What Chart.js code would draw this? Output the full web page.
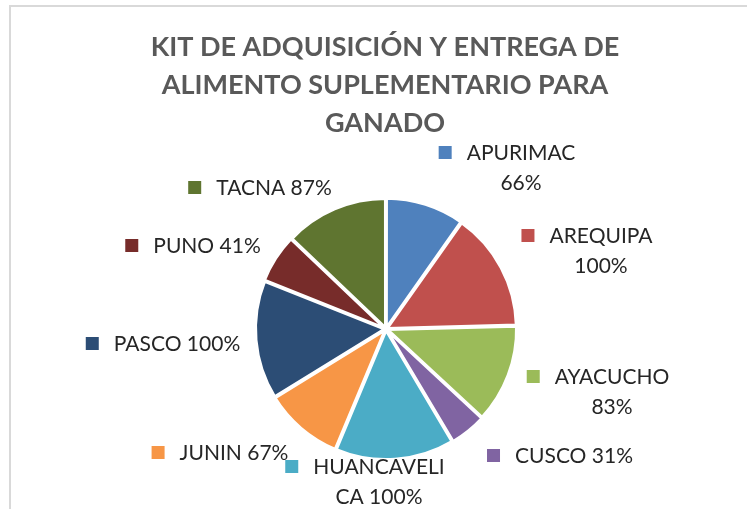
<!DOCTYPE html>
<html>
<head>
<meta charset="utf-8">
<script src="https://cdn.jsdelivr.net/npm/chart.js@4.4.0/dist/chart.umd.min.js"></script>
<style>
    html, body { margin: 0; padding: 0; background: #ffffff; }
    #chartWrap { width: 747px; height: 509px; position: relative; }
</style>
</head>
<body>
<div id="chartWrap"><canvas id="kitChart" width="747" height="509"></canvas></div>
<script>
const regions = ["APURIMAC", "AREQUIPA", "AYACUCHO", "CUSCO", "HUANCAVELICA", "JUNIN", "PASCO", "PUNO", "TACNA"];
const percents = [66, 100, 83, 31, 100, 67, 100, 41, 87];
const sliceColors = ["#4F81BD", "#C0504D", "#9BBB59", "#8064A2", "#4BACC6", "#F79646", "#2C4D75", "#772C2A", "#5F7530"];
const titleLines = ["KIT DE ADQUISICIÓN Y ENTREGA DE", "ALIMENTO SUPLEMENTARIO PARA", "GANADO"];

// where each data label sits (text centre x, first line centre y) and where it wraps
const labelLayout = [
    { cx: 521, cy: 153, wrap: 8 },
    { cx: 601, cy: 236, wrap: 8 },
    { cx: 612, cy: 377, wrap: 8 },
    { cx: 574, cy: 456, wrap: null },
    { cx: 379, cy: 467, wrap: 10 },
    { cx: 234, cy: 453, wrap: null },
    { cx: 177, cy: 344, wrap: null },
    { cx: 207, cy: 246, wrap: null },
    { cx: 274, cy: 188, wrap: null }
];

const labelFont = "21px Lato";
const titleFont = "bold 27px Lato";

function labelLines(i) {
    const text = regions[i] + " " + percents[i] + "%";
    const w = labelLayout[i].wrap;
    if (w === null) return [text];
    return [text.slice(0, w).trim(), text.slice(w).trim()];
}

const decorPlugin = {
    id: "decor",
    beforeDraw(chart) {
        const ctx = chart.ctx;
        ctx.save();
        ctx.fillStyle = "#ffffff";
        ctx.fillRect(0, 0, chart.width, chart.height);
        ctx.strokeStyle = "#d9d9d9";
        ctx.lineWidth = 2;
        ctx.beginPath();
        ctx.moveTo(10, chart.height);
        ctx.lineTo(10, 6);
        ctx.lineTo(chart.width, 6);
        ctx.stroke();
        ctx.restore();
    },
    afterDraw(chart) {
        const ctx = chart.ctx;
        ctx.save();
        ctx.textBaseline = "middle";
        ctx.textAlign = "center";

        ctx.font = titleFont;
        ctx.fillStyle = "#595959";
        titleLines.forEach((line, k) => {
            ctx.fillText(line, 385, 47 + k * 38);
        });

        const meta = chart.getDatasetMeta(0);
        ctx.font = labelFont;
        labelLayout.forEach((pos, i) => {
            const lines = labelLines(i);
            lines.forEach((line, k) => {
                ctx.fillStyle = "#262626";
                ctx.textAlign = "center";
                ctx.fillText(line, pos.cx, pos.cy + k * 30);
            });
            const w = ctx.measureText(lines[0]).width;
            const left = pos.cx - w / 2;
            ctx.fillStyle = meta.data[i].options.backgroundColor;
            ctx.fillRect(left - 28, pos.cy - 7, 13, 13);
        });
        ctx.restore();
    }
};

const ctx = document.getElementById("kitChart").getContext("2d");
const kitChart = new Chart(ctx, {
    type: "pie",
    data: {
        labels: regions,
        datasets: [{
            data: percents,
            backgroundColor: sliceColors,
            borderColor: "#ffffff",
            borderWidth: 3,
            offset: 5,
            hoverOffset: 0
        }]
    },
    options: {
        responsive: false,
        devicePixelRatio: 1,
        animation: false,
        radius: 129,
        layout: {
            padding: { left: 25, right: 0, top: 149, bottom: 0 }
        },
        plugins: {
            legend: { display: false },
            title: { display: false },
            tooltip: { enabled: false }
        }
    },
    plugins: [decorPlugin]
});
</script>
</body>
</html>
